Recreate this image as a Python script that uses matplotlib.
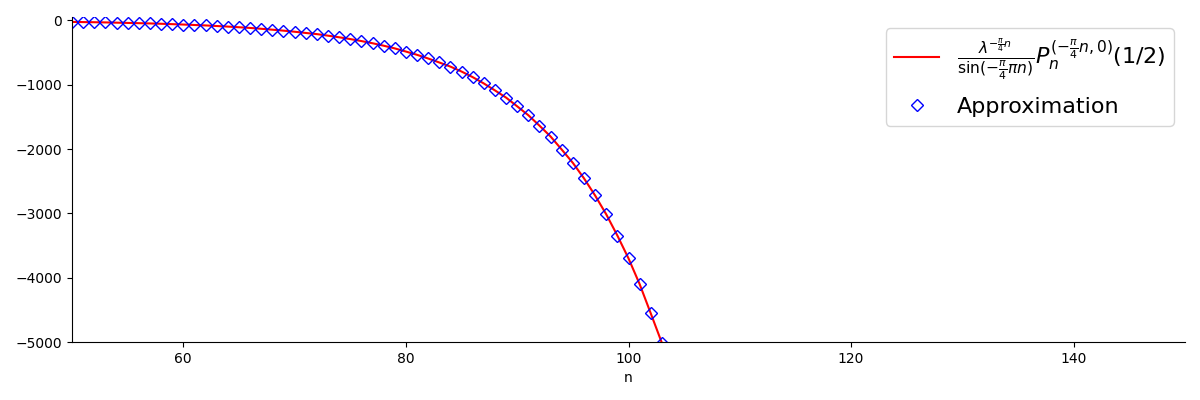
import matplotlib
matplotlib.use("Agg")
import matplotlib.pyplot as plt
import numpy as np

# values (n = 50 .. 105)
n_vals = np.arange(50, 106)
exact_vals = [
    -23, -26, -28, -31, -35, -39, -43, -47, -52, -58,
    -64, -71, -78, -87, -96, -106, -117, -130, -144, -159,
    -176, -195, -213, -237, -262, -290, -321, -355, -393, -435,
    -484, -535, -592, -654, -718, -795, -882, -980, -1088, -1200,
    -1336, -1474, -1636, -1805, -2008, -2215, -2455, -2722, -3015, -3345,
    -3700, -4100, -4555, -5015, -5553, -6146,
]
approx_vals = exact_vals  # markers sit on the curve

label_exact = (r'$\frac{\lambda^{-\frac{\pi}{4}n}}{\sin(-\frac{\pi}{4}\pi n)}'
               r'P_n^{(-\frac{\pi}{4}n,0)}(1/2)$')

fig = plt.figure(figsize=(12, 4), dpi=100)
ax = fig.add_axes([0.06, 0.145, 0.9275, 0.812])

ax.plot(n_vals, exact_vals, 'r-', label=label_exact)
ax.plot(n_vals, approx_vals, 'D', mfc='none', mec='b', ms=6, label='Approximation')

ax.set_xlim(50, 150)
ax.set_ylim(-5000, 50)
ax.set_xticks([60, 80, 100, 120, 140])
ax.set_yticks([0, -1000, -2000, -3000, -4000, -5000])
ax.set_xlabel('n')
ax.spines['top'].set_visible(False)
ax.spines['right'].set_visible(False)
ax.legend(loc='upper right', fontsize=16, labelspacing=0.6)

fig.savefig('out.png')
